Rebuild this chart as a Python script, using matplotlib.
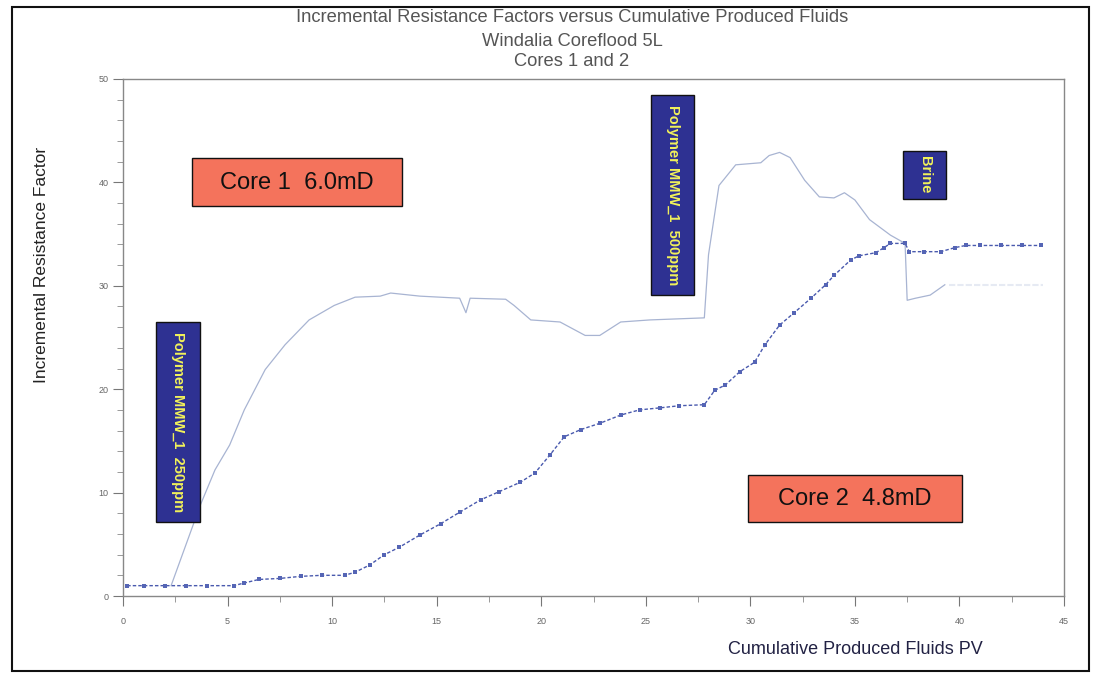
import matplotlib
matplotlib.use("Agg")
import matplotlib.pyplot as plt
from matplotlib.patches import Rectangle
from matplotlib.ticker import MultipleLocator

# ---- data ----
core1_x = [2.3, 3.7, 4.4, 5.1, 5.8, 6.8, 7.75, 8.9, 10.1, 11.1, 12.3, 12.8, 14.2, 16.1, 16.4, 16.6,
           18.3, 18.7, 19.5, 20.9, 22.1, 22.8, 23.8, 25.2, 27.8, 28.0, 28.5, 29.3, 30.5, 30.9, 31.4,
           31.9, 32.6, 33.3, 34.0, 34.5, 35.0, 35.7, 36.7, 37.4, 37.5, 37.9, 38.6, 39.3]
core1_y = [1.0, 8.8, 12.2, 14.6, 18.0, 21.9, 24.3, 26.7, 28.1, 28.9, 29.0, 29.3, 29.0, 28.8, 27.4, 28.8,
           28.7, 28.1, 26.7, 26.5, 25.2, 25.2, 26.5, 26.7, 26.9, 33.0, 39.7, 41.7, 41.9, 42.6, 42.9,
           42.4, 40.2, 38.6, 38.5, 39.0, 38.3, 36.4, 34.9, 34.1, 28.6, 28.8, 29.1, 30.1]
core1_tail_x = [39.5, 44.0]
core1_tail_y = [30.1, 30.1]

core2_x = [0.2, 1.0, 2.0, 3.0, 4.0, 5.3, 5.8, 6.5, 7.5, 8.5, 9.5, 10.6, 11.1, 11.8, 12.5, 13.2, 14.2,
           15.2, 16.1, 17.1, 18.0, 19.0, 19.7, 20.4, 21.1, 21.9, 22.8, 23.8, 24.7, 25.7, 26.6, 27.8,
           28.3, 28.8, 29.5, 30.2, 30.7, 31.4, 32.1, 32.9, 33.6, 34.0, 34.8, 35.2, 36.0, 36.4, 36.7,
           37.4, 37.6, 38.3, 39.1, 39.8, 40.3, 41.0, 42.0, 43.0, 43.9]
core2_y = [1.0, 1.0, 1.0, 1.0, 1.0, 1.0, 1.26, 1.6, 1.7, 1.9, 2.0, 2.0, 2.3, 3.0, 4.0, 4.7, 5.9,
           7.0, 8.1, 9.3, 10.1, 11.0, 11.9, 13.6, 15.4, 16.1, 16.7, 17.5, 18.0, 18.2, 18.4, 18.5,
           19.9, 20.4, 21.7, 22.6, 24.3, 26.2, 27.4, 28.8, 30.1, 31.0, 32.5, 32.9, 33.2, 33.7, 34.1,
           34.1, 33.3, 33.3, 33.3, 33.7, 33.9, 33.9, 33.9, 33.9, 33.9]

title_lines = ["Incremental Resistance Factors versus Cumulative Produced Fluids",
               "Windalia Coreflood 5L", "Cores 1 and 2"]
xlabel = "Cumulative Produced Fluids PV"
ylabel = "Incremental Resistance Factor"
core_labels = ["Core 1  6.0mD", "Core 2  4.8mD"]
stage_labels = ["Polymer MMW_1  250ppm", "Polymer MMW_1  500ppm", "Brine"]

plt.rcParams['font.family'] = ['Liberation Sans', 'DejaVu Sans']

W, H = 1094, 675
fig = plt.figure(figsize=(W / 100, H / 100), dpi=100)
ax = fig.add_axes([123 / W, 1 - 596 / H, (1064 - 123) / W, (596 - 79) / H])

ax.plot(core1_x, core1_y, color='#a8b4d2', lw=0.9)
ax.plot(core1_tail_x, core1_tail_y, color='#e6eaf3', lw=1.5, ls=(0, (3, 1)))
ax.plot(core2_x, core2_y, color='#4a5aae', lw=1.0, ls=(0, (2.5, 1.5)),
        marker='s', markersize=2.4, markeredgewidth=0, markerfacecolor='#5565b5')

ax.set_xlim(0, 45)
ax.set_ylim(0, 50)
ax.xaxis.set_major_locator(MultipleLocator(5))
ax.xaxis.set_minor_locator(MultipleLocator(2.5))
ax.yaxis.set_major_locator(MultipleLocator(10))
ax.yaxis.set_minor_locator(MultipleLocator(2))
for s in ax.spines.values():
    s.set_color('#888888')
    s.set_linewidth(1.0)
ax.tick_params(which='major', length=7, width=0.8, color='#777777', labelsize=6.5,
               labelcolor='#666666', direction='out')
ax.tick_params(which='minor', length=4, width=0.7, color='#999999', direction='out')
ax.tick_params(axis='x', pad=8)

# titles
for t, yy in zip(title_lines, [18, 41, 62]):
    fig.text(572 / W, 1 - yy / H, t, ha='center', va='center', fontsize=13.2,
             color='#555555')

fig.text(855 / W, 1 - 650 / H, xlabel, ha='center', va='center', fontsize=13,
         color='#222244')
fig.text(42 / W, 1 - 265 / H, ylabel, ha='center', va='center', rotation=90,
         fontsize=12.5, color='#222222')

# annotation boxes (pixel coords in figure)
def fig_box(x0, y0, x1, y1, fc):
    r = Rectangle((x0 / W, 1 - y1 / H), (x1 - x0) / W, (y1 - y0) / H, transform=fig.transFigure,
                  facecolor=fc, edgecolor='#111111', lw=1.0, zorder=5)
    fig.patches.append(r)

salmon = '#f4735c'
navy = '#2e3192'
fig_box(192, 158, 402, 206, salmon)
fig.text(297 / W, 1 - 183 / H, core_labels[0], ha='center', va='center', fontsize=17,
         color='#111111', zorder=6)
fig_box(748, 475, 962, 522, salmon)
fig.text(855 / W, 1 - 499 / H, core_labels[1], ha='center', va='center', fontsize=17,
         color='#111111', zorder=6)

for (x0, y0, x1, y1), lab in zip([(156, 322, 200, 522), (651, 95, 694, 295), (903, 151, 946, 199)],
                                 stage_labels):
    fig_box(x0, y0, x1, y1, navy)
    fig.text((x0 + x1) / 2 / W, 1 - (y0 + y1) / 2 / H, lab, ha='center', va='center',
             rotation=-90, fontsize=10.5, color='#f2f25a', fontweight='bold', zorder=6)

# outer frame
frame = Rectangle((12 / W, 4 / H), (1089 - 12) / W, (668 - 4) / H, transform=fig.transFigure,
                  fill=False, edgecolor='#111111', lw=1.5)
fig.patches.append(frame)

fig.savefig('out.png', dpi=100)
